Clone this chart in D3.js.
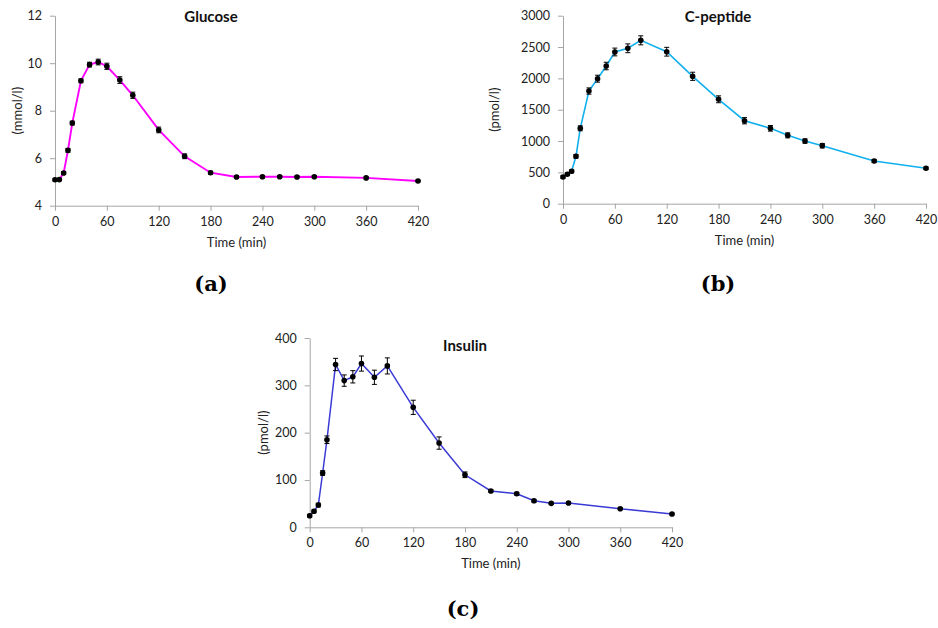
<!DOCTYPE html>
<html>
<head>
<meta charset="utf-8">
<script src="https://cdn.jsdelivr.net/npm/d3@7"></script>
<style>
  body { margin: 0; background: #fff; }
  svg { display: block; }
  .tick text { font-family: Lato, "Open Sans", sans-serif; font-size: 12.5px; fill: #222; }
  .axis path, .axis line { stroke: #a6a6a6; }
</style>
</head>
<body>
<svg id="chart" width="938" height="628"></svg>
<script>
// Sampling times (min) shared by all three curves
const times = [0, 5, 10, 15, 20, 30, 40, 50, 60, 75, 90, 120, 150, 180, 210, 240, 260, 280, 300, 360, 420];
const xTicks = [0, 60, 120, 180, 240, 300, 360, 420];

// Glucose (mmol/l), mean and SEM
const glucose = [5.09, 5.10, 5.38, 6.33, 7.48, 9.26, 9.94, 10.05, 9.87, 9.29, 8.65, 7.19, 6.08, 5.39, 5.21, 5.22, 5.22, 5.21, 5.22, 5.17, 5.04];
const glucoseErr = [0.05, 0.05, 0.06, 0.08, 0.08, 0.08, 0.10, 0.12, 0.13, 0.14, 0.13, 0.12, 0.10, 0.06, 0.05, 0.05, 0.04, 0.04, 0.04, 0.04, 0.03];
const glucoseTicks = [4, 6, 8, 10, 12];

// C-peptide (pmol/l), mean and SEM
const cpeptide = [426, 469, 517, 756, 1203, 1798, 1995, 2197, 2421, 2480, 2607, 2425, 2033, 1666, 1324, 1203, 1091, 1000, 926, 681, 565];
const cpeptideErr = [20, 20, 25, 30, 40, 50, 55, 60, 62, 70, 72, 70, 65, 55, 50, 45, 40, 35, 35, 25, 20];
const cpeptideTicks = [0, 500, 1000, 1500, 2000, 2500, 3000];

// Insulin (pmol/l), mean and SEM
const insulin = [24.5, 33.8, 47, 114.7, 185, 344, 310, 318, 346, 317, 341, 253.5, 178, 111, 76.7, 71, 56, 50.6, 51.3, 39.3, 28];
const insulinErr = [3, 3, 4, 5, 8, 13, 12, 13, 16, 15, 17, 15, 13, 6, 3, 3, 3, 2, 2, 2, 2];
const insulinTicks = [0, 100, 200, 300, 400];

const svg = d3.select("#chart");
const sansFont = 'Lato, "Open Sans", sans-serif';

function panel(opt) {
  const x = d3.scaleLinear().domain([0, 420]).range([opt.left, opt.right]);
  const y = d3.scaleLinear().domain(opt.yDomain).range([opt.bottom, opt.top]);
  const g = svg.append("g");

  g.append("g").attr("class", "axis")
    .attr("transform", `translate(0,${opt.bottom})`)
    .call(d3.axisBottom(x).tickValues(xTicks).tickFormat(d3.format("d"))
      .tickSize(5).tickSizeOuter(0).tickPadding(6))
    .call(a => a.select(".domain").attr("stroke", "#a6a6a6"));

  g.append("g").attr("class", "axis")
    .attr("transform", `translate(${opt.left},0)`)
    .call(d3.axisLeft(y).tickValues(opt.yTicks).tickFormat(d3.format("d"))
      .tickSize(5).tickSizeOuter(0).tickPadding(8))
    .call(a => a.select(".domain").attr("stroke", "#a6a6a6"));

  g.selectAll(".axis text").attr("font-family", null).attr("font-size", null);

  const pts = times.map((t, i) => ({ t, v: opt.values[i], e: opt.errors[i] }));

  g.append("path")
    .datum(pts)
    .attr("fill", "none")
    .attr("stroke", opt.color)
    .attr("stroke-width", opt.lineWidth)
    .attr("d", d3.line().x(d => x(d.t)).y(d => y(d.v)));

  const eb = g.append("g").attr("stroke", "#000").attr("stroke-width", 1);
  eb.selectAll("line.v").data(pts).join("line")
    .attr("x1", d => x(d.t)).attr("x2", d => x(d.t))
    .attr("y1", d => y(d.v - d.e)).attr("y2", d => y(d.v + d.e));
  eb.selectAll("line.top").data(pts).join("line")
    .attr("x1", d => x(d.t) - 2.5).attr("x2", d => x(d.t) + 2.5)
    .attr("y1", d => y(d.v + d.e)).attr("y2", d => y(d.v + d.e));
  eb.selectAll("line.bot").data(pts).join("line")
    .attr("x1", d => x(d.t) - 2.5).attr("x2", d => x(d.t) + 2.5)
    .attr("y1", d => y(d.v - d.e)).attr("y2", d => y(d.v - d.e));

  g.append("g").selectAll("circle").data(pts).join("circle")
    .attr("cx", d => x(d.t)).attr("cy", d => y(d.v)).attr("r", 2.8)
    .attr("fill", "#000");

  g.append("text")
    .attr("x", opt.titleX).attr("y", opt.titleY)
    .attr("text-anchor", "middle")
    .attr("font-family", sansFont).attr("font-weight", "bold").attr("font-size", 15)
    .attr("fill", "#111")
    .text(opt.title);

  g.append("text")
    .attr("transform", `translate(${opt.yLabelX},${(opt.top + opt.bottom) / 2}) rotate(-90)`)
    .attr("text-anchor", "middle")
    .attr("font-family", sansFont).attr("font-size", 13).attr("fill", "#222")
    .text(opt.yLabel);

  g.append("text")
    .attr("x", (opt.left + opt.right) / 2).attr("y", opt.bottom + 41)
    .attr("text-anchor", "middle")
    .attr("font-family", sansFont).attr("font-size", 13).attr("fill", "#222")
    .text("Time (min)");

  g.append("text")
    .attr("x", opt.tagX).attr("y", opt.tagY)
    .attr("text-anchor", "middle")
    .attr("font-family", '"DejaVu Serif", serif').attr("font-weight", "bold").attr("font-size", 21)
    .attr("fill", "#000")
    .text(opt.tag);
}

panel({
  left: 55, right: 418, top: 15.7, bottom: 205.7,
  yDomain: [4, 12], yTicks: glucoseTicks,
  values: glucose, errors: glucoseErr, color: "#ff00ff", lineWidth: 1.9,
  title: "Glucose", titleX: 211, titleY: 22,
  yLabel: "(mmol/l)", yLabelX: 22,
  tag: "(a)", tagX: 211, tagY: 291
});

panel({
  left: 563, right: 926, top: 15.7, bottom: 203.7,
  yDomain: [0, 3000], yTicks: cpeptideTicks,
  values: cpeptide, errors: cpeptideErr, color: "#10b0ee", lineWidth: 1.6,
  title: "C-peptide", titleX: 718, titleY: 22,
  yLabel: "(pmol/l)", yLabelX: 499,
  tag: "(b)", tagX: 718, tagY: 291
});

panel({
  left: 309.7, right: 672, top: 338, bottom: 527.3,
  yDomain: [0, 400], yTicks: insulinTicks,
  values: insulin, errors: insulinErr, color: "#3a3ad6", lineWidth: 1.5,
  title: "Insulin", titleX: 465, titleY: 351,
  yLabel: "(pmol/l)", yLabelX: 268,
  tag: "(c)", tagX: 463, tagY: 616
});
</script>
</body>
</html>
